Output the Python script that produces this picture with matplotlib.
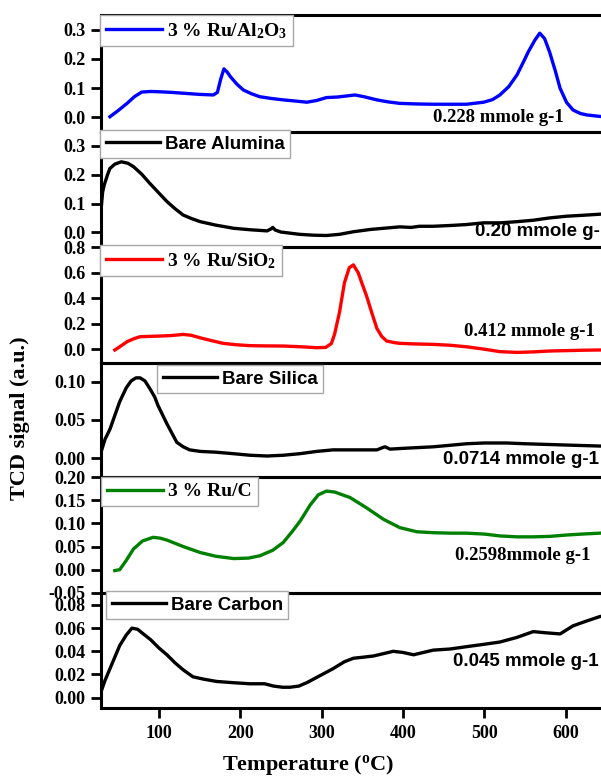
import matplotlib
matplotlib.use("Agg")
import matplotlib.pyplot as plt
from matplotlib.font_manager import FontProperties

plt.rcParams["axes.unicode_minus"] = False
plt.rcParams["mathtext.fontset"] = "custom"
plt.rcParams["mathtext.rm"] = "Liberation Serif:bold"
plt.rcParams["mathtext.bf"] = "Liberation Serif:bold"
plt.rcParams["mathtext.it"] = "Liberation Serif:bold"

# ---- TPR data: temperature (deg C) and TCD signal (a.u.) ----
ru_al_T = [40, 50, 61, 70, 79, 90, 101, 115, 130, 150, 167, 172, 176, 180, 184, 188,
           196, 204, 214, 224, 238, 253, 268, 282, 294, 306, 320, 332, 341, 352, 368,
           382, 396, 417, 437, 458, 478, 499, 510, 519, 530, 540, 548, 554, 562, 568,
           574, 580, 587, 593, 601, 609, 618, 626, 642, 650]
ru_al_S = [0.001, 0.022, 0.047, 0.070, 0.086, 0.088, 0.087, 0.085, 0.082, 0.078, 0.076,
           0.085, 0.130, 0.166, 0.155, 0.139, 0.113, 0.093, 0.080, 0.070, 0.064, 0.059,
           0.055, 0.051, 0.057, 0.067, 0.069, 0.073, 0.076, 0.070, 0.059, 0.052, 0.047,
           0.045, 0.044, 0.044, 0.044, 0.051, 0.060, 0.076, 0.105, 0.145, 0.190, 0.225,
           0.265, 0.289, 0.270, 0.225, 0.160, 0.099, 0.050, 0.024, 0.012, 0.007, 0.002,
           0.001]

al_T = [29, 31, 33, 37, 40, 46, 54, 62, 69, 79, 89, 100, 110, 120, 130, 140, 151, 170,
        192, 212, 233, 238, 240, 243, 250, 273, 290, 306, 322, 339, 360, 380, 396, 410,
        420, 437, 460, 478, 499, 520, 540, 560, 580, 601, 620, 642, 650]
al_S = [0.077, 0.140, 0.165, 0.200, 0.222, 0.237, 0.245, 0.240, 0.228, 0.202, 0.170,
        0.137, 0.107, 0.082, 0.060, 0.048, 0.037, 0.025, 0.014, 0.009, 0.005, 0.012,
        0.017, 0.008, 0.001, -0.007, -0.010, -0.011, -0.007, 0.002, 0.010, 0.015, 0.019,
        0.017, 0.021, 0.021, 0.024, 0.027, 0.033, 0.033, 0.037, 0.042, 0.050, 0.056,
        0.059, 0.063, 0.064]

ru_si_T = [46, 52, 61, 70, 77, 90, 101, 115, 130, 140, 151, 165, 179, 195, 212, 230,
           253, 275, 294, 305, 312, 316, 322, 328, 334, 339, 345, 350, 355, 362, 368,
           374, 380, 390, 396, 417, 437, 458, 478, 499, 519, 540, 560, 580, 601, 620,
           642, 650]
ru_si_S = [-0.005, 0.020, 0.060, 0.085, 0.099, 0.102, 0.104, 0.108, 0.117, 0.110, 0.090,
           0.068, 0.047, 0.036, 0.029, 0.027, 0.026, 0.020, 0.013, 0.015, 0.045, 0.120,
           0.290, 0.520, 0.640, 0.662, 0.600, 0.510, 0.423, 0.280, 0.163, 0.100, 0.065,
           0.052, 0.047, 0.042, 0.039, 0.032, 0.020, 0.002, -0.018, -0.024, -0.020,
           -0.013, -0.010, -0.007, -0.005, -0.005]

si_T = [29, 34, 40, 46, 52, 60, 66, 72, 77, 83, 89, 95, 99, 110, 122, 130, 138, 151,
        170, 192, 212, 233, 253, 273, 294, 314, 340, 368, 375, 378, 384, 400, 437, 458,
        478, 500, 527, 550, 580, 610, 642, 650]
si_S = [0.008, 0.025, 0.038, 0.056, 0.074, 0.092, 0.101, 0.105, 0.105, 0.101, 0.091,
        0.080, 0.069, 0.045, 0.021, 0.015, 0.011, 0.009, 0.008, 0.006, 0.004, 0.003,
        0.004, 0.006, 0.009, 0.011, 0.011, 0.011, 0.014, 0.015, 0.012, 0.013, 0.015,
        0.017, 0.019, 0.020, 0.020, 0.019, 0.018, 0.017, 0.016, 0.016]

ru_c_T = [46, 52, 60, 69, 80, 93, 102, 110, 130, 151, 170, 192, 210, 224, 240, 253,
          265, 274, 286, 296, 306, 316, 335, 355, 376, 396, 417, 437, 458, 478, 500,
          519, 540, 560, 580, 601, 620, 642, 650]
ru_c_S = [-0.002, 0.000, 0.020, 0.045, 0.062, 0.070, 0.068, 0.064, 0.050, 0.037, 0.029,
          0.024, 0.025, 0.030, 0.042, 0.059, 0.085, 0.106, 0.140, 0.162, 0.170, 0.168,
          0.156, 0.134, 0.109, 0.091, 0.082, 0.080, 0.079, 0.079, 0.077, 0.073, 0.071,
          0.071, 0.072, 0.075, 0.077, 0.079, 0.080]

c_T = [29, 34, 40, 46, 52, 60, 67, 74, 81, 90, 100, 110, 120, 130, 142, 155, 171, 190,
       212, 230, 241, 252, 261, 272, 282, 298, 314, 328, 339, 352, 364, 376, 388, 400,
       413, 425, 437, 458, 478, 499, 519, 540, 560, 575, 593, 609, 625, 642, 650]
c_S = [0.005, 0.015, 0.025, 0.035, 0.045, 0.054, 0.060, 0.059, 0.055, 0.050, 0.043,
       0.037, 0.030, 0.024, 0.018, 0.016, 0.014, 0.013, 0.012, 0.012, 0.010, 0.009,
       0.009, 0.010, 0.013, 0.019, 0.025, 0.031, 0.034, 0.035, 0.036, 0.038, 0.040,
       0.039, 0.037, 0.039, 0.041, 0.042, 0.044, 0.046, 0.048, 0.052, 0.057, 0.056,
       0.055, 0.062, 0.066, 0.070, 0.071]

labels = ["3 % Ru/Al$_\\mathbf{2}$O$_\\mathbf{3}$", "Bare Alumina",
          "3 % Ru/SiO$_\\mathbf{2}$", "Bare Silica", "3 % Ru/C", "Bare Carbon"]
uptakes = ["0.228 mmole g-1", "0.20 mmole g-1", "0.412 mmole g-1",
           "0.0714 mmole g-1", "0.2598mmole g-1", "0.045 mmole g-1"]
x_ticks = [100, 200, 300, 400, 500, 600]

series = [(ru_al_T, ru_al_S), (al_T, al_S), (ru_si_T, ru_si_S),
          (si_T, si_S), (ru_c_T, ru_c_S), (c_T, c_S)]
colors = ["#0000ff", "#000000", "#ff0000", "#000000", "#008000", "#000000"]
serif_label = [True, False, True, False, True, False]
ylims = [(-0.0517, 0.3517), (-0.051, 0.3486), (-0.107, 0.802),
         (-0.0244, 0.1244), (-0.0505, 0.2005), (-0.0089, 0.0903)]
yticks = [[0.0, 0.1, 0.2, 0.3], [0.0, 0.1, 0.2, 0.3], [0.0, 0.2, 0.4, 0.6, 0.8],
          [0.00, 0.05, 0.10], [-0.05, 0.00, 0.05, 0.10, 0.15, 0.20],
          [0.00, 0.02, 0.04, 0.06, 0.08]]
yfmt = ["{:.1f}", "{:.1f}", "{:.1f}", "{:.2f}", "{:.2f}", "{:.2f}"]

# figure geometry in pixels
W, H = 601, 778
edges = [15, 132, 247, 363, 477, 593, 708]
legend_corner = [(100, 15), (100, 130), (100, 245), (157, 365), (101, 477), (106, 591)]
uptake_pos = [(433, 118, "left"), (475, 232, "left"), (464, 332, "left"),
              (443, 460, "left"), (455, 556, "left"), (453, 662, "left")]

tick_font = FontProperties(family="Liberation Serif", weight="bold", size=13)
serif_leg = FontProperties(family="Liberation Serif", weight="bold", size=14)
sans_leg = FontProperties(family="Liberation Sans", weight="bold", size=13.5)
serif_note = FontProperties(family="Liberation Serif", weight="bold", size=13.5)
sans_note = FontProperties(family="Liberation Sans", weight="bold", size=13.5)

fig = plt.figure(figsize=(W / 100, H / 100), dpi=100)
left = 101 / W
xmin, xmax = 29, 650
width = (xmax - xmin) * 0.814 / W

for i in range(6):
    top, bot = edges[i], edges[i + 1]
    ax = fig.add_axes([left, 1 - bot / H, width, (bot - top) / H])
    ax.patch.set_alpha(0)
    T, S = series[i]
    ax.plot(T, S, color=colors[i], lw=2.4, label=labels[i], solid_joinstyle="round")
    ax.set_xlim(xmin, xmax)
    ax.set_ylim(*ylims[i])
    ax.set_yticks(yticks[i])
    ax.set_yticklabels([yfmt[i].format(v) for v in yticks[i]])
    for sp in ax.spines.values():
        sp.set_linewidth(2.2)
    ax.tick_params(axis="y", direction="out", length=7, width=2, pad=4)
    for t in ax.get_yticklabels():
        t.set_fontproperties(tick_font)
    if i < 5:
        ax.tick_params(axis="x", bottom=False, labelbottom=False)
    else:
        ax.set_xticks(x_ticks)
        ax.tick_params(axis="x", direction="out", length=7, width=2, pad=5)
        for t in ax.get_xticklabels():
            t.set_fontproperties(tick_font)
    lx, ly = legend_corner[i]
    leg = ax.legend(loc="upper left", bbox_to_anchor=(lx / W, 1 - ly / H),
                    bbox_transform=fig.transFigure, borderaxespad=0,
                    prop=serif_leg if serif_label[i] else sans_leg,
                    handlelength=2.9, handletextpad=0.25, borderpad=0.3,
                    fancybox=False, framealpha=1, edgecolor="#a8a8a8")
    leg.get_frame().set_linewidth(1.0)
    leg.set_zorder(10)
    ux, uy, ha = uptake_pos[i]
    fig.text(ux / W, 1 - uy / H, uptakes[i], ha=ha, va="center",
             fontproperties=serif_note if serif_label[i] else sans_note)

fig.text(20 / W, 1 - 418 / H, "TCD signal (a.u.)", rotation=90, ha="center",
         va="center", family="Liberation Serif", weight="bold", fontsize=16)
fig.text(308 / W, 1 - 765 / H, "Temperature ($^\\mathbf{o}$C)", ha="center",
         va="center", family="Liberation Serif", weight="bold", fontsize=16)

fig.savefig("out.png", dpi=100)
